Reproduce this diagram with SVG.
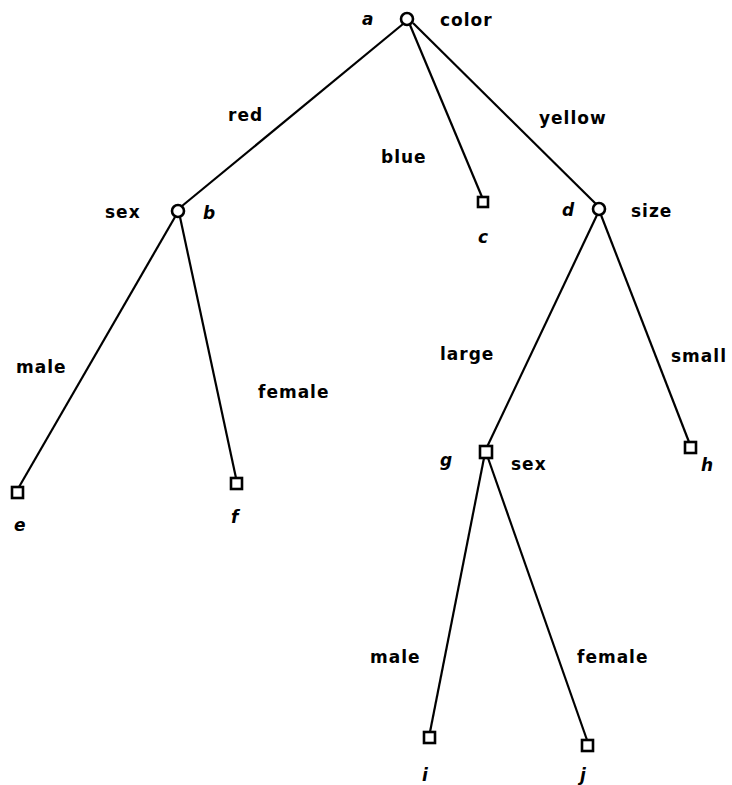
<svg xmlns="http://www.w3.org/2000/svg" width="732" height="785" viewBox="0 0 732 785">
<style>
.e{stroke:#000;stroke-width:2.2;fill:none}
.n{stroke:#000;stroke-width:2.6;fill:#fff}
.t{font-family:"DejaVu Sans",Arial,sans-serif;font-size:17px;font-weight:bold;letter-spacing:1px;fill:#000}
.i{font-family:"DejaVu Sans",Arial,sans-serif;font-size:17px;font-weight:bold;font-style:italic;fill:#000}
</style>
<rect width="732" height="785" fill="#fff"/>
<g id="connectors">
<line class="e" x1="403" y1="24" x2="182" y2="206"/>
<line class="e" x1="410" y1="25" x2="482" y2="197"/>
<line class="e" x1="413" y1="23" x2="596" y2="204"/>
<line class="e" x1="175" y1="217" x2="19" y2="487"/>
<line class="e" x1="180" y1="217" x2="236" y2="478"/>
<line class="e" x1="597" y1="215" x2="487" y2="447"/>
<line class="e" x1="601" y1="215" x2="689" y2="442"/>
<line class="e" x1="484" y1="458" x2="430" y2="732"/>
<line class="e" x1="488" y1="458" x2="587" y2="740"/>
</g>
<g id="edge-labels">
<text class="t" x="228" y="121">red</text>
<text class="t" x="381" y="163">blue</text>
<text class="t" x="539" y="124">yellow</text>
<text class="t" x="16" y="373">male</text>
<text class="t" x="258" y="398">female</text>
<text class="t" x="440" y="360">large</text>
<text class="t" x="671" y="362">small</text>
<text class="t" x="370" y="663">male</text>
<text class="t" x="577" y="663">female</text>
</g>
<g id="node-a"><circle class="n" cx="407" cy="19" r="6"/><text class="i" x="362" y="25">a</text><text class="t" x="440" y="26">color</text></g>
<g id="node-b"><circle class="n" cx="178" cy="211" r="6"/><text class="t" x="105" y="218">sex</text><text class="i" x="203" y="219">b</text></g>
<g id="node-c"><rect class="n" x="478" y="197" width="10" height="10"/><text class="i" x="478" y="243">c</text></g>
<g id="node-d"><circle class="n" cx="599" cy="209" r="6"/><text class="i" x="562" y="216">d</text><text class="t" x="631" y="217">size</text></g>
<g id="node-e"><rect class="n" x="12" y="487" width="11" height="11"/><text class="i" x="14" y="531">e</text></g>
<g id="node-f"><rect class="n" x="231" y="478" width="11" height="11"/><text class="i" x="231" y="523">f</text></g>
<g id="node-g"><rect class="n" x="480" y="446" width="12" height="12"/><text class="i" x="440" y="466">g</text><text class="t" x="511" y="470">sex</text></g>
<g id="node-h"><rect class="n" x="685" y="442" width="11" height="11"/><text class="i" x="701" y="471">h</text></g>
<g id="node-i"><rect class="n" x="424" y="732" width="11" height="11"/><text class="i" x="422" y="781">i</text></g>
<g id="node-j"><rect class="n" x="582" y="740" width="11" height="11"/><text class="i" x="580" y="781">j</text></g>
</svg>
